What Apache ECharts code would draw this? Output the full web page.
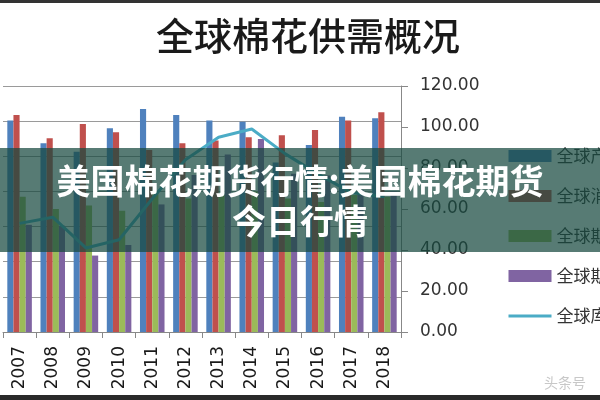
<!DOCTYPE html>
<html>
<head>
<meta charset="utf-8">
<script src="https://cdn.jsdelivr.net/npm/echarts@6/dist/echarts.min.js"></script>
<style>html,body{margin:0;padding:0;background:#fff;}#c{width:600px;height:400px;}</style>
</head>
<body>
<div id="c"></div>
<script>
const categories = ['2007','2008','2009','2010','2011','2012','2013','2014','2015','2016','2017','2018'];
const seriesNames = ['全球产量','全球消费量','全球期初库存','全球期末库存','全球库存消费比'];
const production = [120.3, 107.4, 102.6, 115.9, 126.9, 123.5, 120.3, 119.7, 96.5, 106.4, 122.5, 121.6];
const consumption = [123.5, 110.2, 118.4, 113.7, 103.6, 107.4, 109.0, 110.8, 112.0, 115.0, 120.3, 125.0];
const beginStock = [77, 70, 72, 69, 80, 76, 78, 80, 76, 74, 78, 77];
const endStock = [61, 60.5, 43.5, 49.5, 72.6, 89.3, 101, 109.8, 90, 89, 81, 80];
const ratio = [53, 56, 41, 45, 65, 84, 95, 99, 87, 77, 68, 66];
const leftTicks = {min: 0, max: 140, interval: 20};
const rightTicks = {min: 0, max: 120, interval: 20};

const colors = ['#4F81BD', '#C0504D', '#9BBB59', '#8064A2', '#4BACC6'];
const chart = echarts.init(document.getElementById('c'), null, {renderer: 'canvas'});
const barData = [production, consumption, beginStock, endStock];
const series = barData.map((d, i) => ({
  name: seriesNames[i], type: 'bar', yAxisIndex: 0, data: d,
  barGap: '0%', barCategoryGap: '26%',
  itemStyle: {color: colors[i]}
}));
series.push({
  name: seriesNames[4], type: 'line', yAxisIndex: 1, data: ratio,
  symbol: 'none', lineStyle: {color: colors[4], width: 3}, itemStyle: {color: colors[4]}
});

const legendData = seriesNames.map((n, i) => i < 4 ? {name: n, icon: 'rect'} : {name: n, itemStyle: {opacity: 0}, lineStyle: {width: 3, color: colors[4]}});

chart.setOption({
  animation: false,
  backgroundColor: '#fff',
  grid: {left: 3, right: 199, top: 86, bottom: 68},
  legend: {
    orient: 'vertical', left: 502, top: 141,
    itemWidth: 43, itemHeight: 12, itemGap: 20,
    data: legendData,
    textStyle: {fontSize: 17, lineHeight: 20, color: '#333', fontFamily: 'Noto Sans CJK SC'}
  },
  xAxis: {
    type: 'category', data: categories,
    axisLine: {lineStyle: {color: '#888'}},
    axisTick: {show: true, length: 6, lineStyle: {color: '#888'}},
    axisLabel: {rotate: 90, fontSize: 17, color: '#1a1a1a', margin: 14, fontFamily: 'DejaVu Sans'}
  },
  yAxis: [
    {type: 'value', position: 'left', min: leftTicks.min, max: leftTicks.max, interval: leftTicks.interval,
     axisLabel: {show: false}, axisLine: {show: false}, axisTick: {show: false},
     splitLine: {lineStyle: {color: '#9a9a9a'}}},
    {type: 'value', position: 'right', min: rightTicks.min, max: rightTicks.max, interval: rightTicks.interval,
     axisLine: {show: true, lineStyle: {color: '#888'}},
     axisTick: {show: true, length: 7, lineStyle: {color: '#888'}},
     axisLabel: {formatter: v => v.toFixed(2), margin: 19, fontSize: 17, color: '#333', fontFamily: 'DejaVu Sans'},
     splitLine: {show: false}}
  ],
  series: series,
  graphic: [
    {type: 'rect', z: 100, shape: {x: 0, y: 0, width: 600, height: 3}, style: {fill: '#333'}},
    {type: 'rect', z: 100, shape: {x: 0, y: 395, width: 600, height: 5}, style: {fill: '#2a2a2a'}},
    {type: 'text', z: 100, x: 308, y: 36, style: {text: '全球棉花供需概况', fontSize: 38, fontWeight: 500, fontFamily: 'Noto Sans CJK SC', fill: '#1a1a1a', textAlign: 'center', textVerticalAlign: 'middle'}},
    {type: 'text', z: 100, x: 565, y: 383, style: {text: '头条号', fontSize: 14, fontFamily: 'Noto Sans CJK SC', fill: '#c8c8c8', textAlign: 'center', textVerticalAlign: 'middle'}},
    {type: 'rect', z: 100, shape: {x: 0, y: 148, width: 600, height: 104}, style: {fill: 'rgba(22,72,62,0.72)'}},
    {type: 'text', z: 101, x: 300, y: 181, style: {text: '美国棉花期货行情:美国棉花期货', fontSize: 34, fontWeight: 'bold', fontFamily: 'Noto Sans CJK SC', fill: '#fff', textAlign: 'center', textVerticalAlign: 'middle'}},
    {type: 'text', z: 101, x: 300, y: 221, style: {text: '今日行情', fontSize: 34, fontWeight: 'bold', fontFamily: 'Noto Sans CJK SC', fill: '#fff', textAlign: 'center', textVerticalAlign: 'middle'}}
  ]
});
</script>
</body>
</html>
